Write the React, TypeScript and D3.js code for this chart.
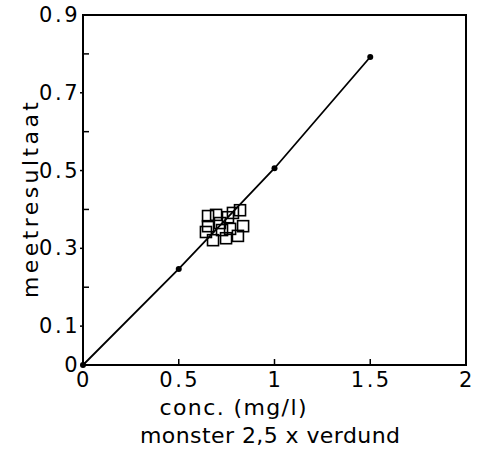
import React from "react";
import * as d3 from "d3";

const calibX = [0, 0.5, 1.0, 1.5];
const calibY = [0, 0.247, 0.506, 0.792];

const sampleX = [0.653, 0.695, 0.757, 0.783, 0.82, 0.653, 0.679, 0.747, 0.809, 0.836, 0.715, 0.768, 0.642, 0.726];
const sampleY = [0.383, 0.386, 0.38, 0.391, 0.398, 0.357, 0.321, 0.326, 0.332, 0.357, 0.365, 0.35, 0.342, 0.347];

const xTickLabels = ["0", "0.5", "1", "1.5", "2"];
const xTickValues = [0, 0.5, 1, 1.5, 2];
const yTickLabels = ["0", "0.1", "0.3", "0.5", "0.7", "0.9"];
const yTickValues = [0, 0.1, 0.3, 0.5, 0.7, 0.9];
const yMinorValues = [0.2, 0.4, 0.6, 0.8];

const xTitle = "conc. (mg/l)";
const xSubTitle = "monster 2,5 x verdund";
const yTitle = "meetresultaat";

export default function App() {
  const W = 477, H = 450;
  const left = 83, right = 466, top = 15, bottom = 365;
  const x = d3.scaleLinear().domain([0, 2]).range([left, right]);
  const y = d3.scaleLinear().domain([0, 0.9]).range([bottom, top]);
  const line = d3.line<number>().x((d, i) => x(calibX[i])).y((d, i) => y(calibY[i]));
  const font = "'DejaVu Sans', sans-serif";
  const sq = 11;
  return (
    <svg width={W} height={H} style={{ position: "absolute", left: 0, top: 0, background: "#fff" }}>
      <rect x={left} y={top} width={right - left} height={bottom - top} fill="none" stroke="#000" strokeWidth={2} />
      {xTickValues.slice(1, -1).map((v) => (
        <line key={"xt" + v} x1={x(v)} x2={x(v)} y1={bottom} y2={bottom - 6} stroke="#000" strokeWidth={1.5} />
      ))}
      {yMinorValues.map((v) => (
        <line key={"ym" + v} x1={left} x2={left + 6} y1={y(v)} y2={y(v)} stroke="#000" strokeWidth={1.5} />
      ))}
      {yTickValues.slice(1, -1).map((v) => (
        <line key={"yt" + v} x1={left - 3} x2={left} y1={y(v)} y2={y(v)} stroke="#000" strokeWidth={1.5} />
      ))}
      {xTickValues.map((v, i) => (
        <text key={"xl" + v} x={x(v) + 1} y={bottom + 22} textAnchor="middle" fontFamily={font} fontSize={21} letterSpacing={2.5} fill="#000">
          {xTickLabels[i]}
        </text>
      ))}
      {yTickValues.map((v, i) => (
        <text key={"yl" + v} x={left - 3} y={y(v) + 7} textAnchor="end" fontFamily={font} fontSize={21} letterSpacing={2.5} fill="#000">
          {yTickLabels[i]}
        </text>
      ))}
      <path d={line(calibY) || ""} fill="none" stroke="#000" strokeWidth={1.8} />
      {calibX.map((v, i) => (
        <circle key={"c" + i} cx={x(v)} cy={y(calibY[i])} r={3} fill="#000" />
      ))}
      {sampleX.map((v, i) => (
        <rect key={"s" + i} x={x(v) - sq / 2} y={y(sampleY[i]) - sq / 2} width={sq} height={sq} fill="none" stroke="#000" strokeWidth={1.6} />
      ))}
      <text x={233} y={415} textAnchor="middle" fontFamily={font} fontSize={22} textLength={147} lengthAdjust="spacing" fill="#000">
        {xTitle}
      </text>
      <text x={270} y={443} textAnchor="middle" fontFamily={font} fontSize={22} textLength={260} lengthAdjust="spacing" fill="#000">
        {xSubTitle}
      </text>
      <text transform={`translate(38, ${(top + bottom) / 2 + 10}) rotate(-90)`} textAnchor="middle" fontFamily={font} fontSize={22} textLength={196} lengthAdjust="spacing" fill="#000">
        {yTitle}
      </text>
    </svg>
  );
}
